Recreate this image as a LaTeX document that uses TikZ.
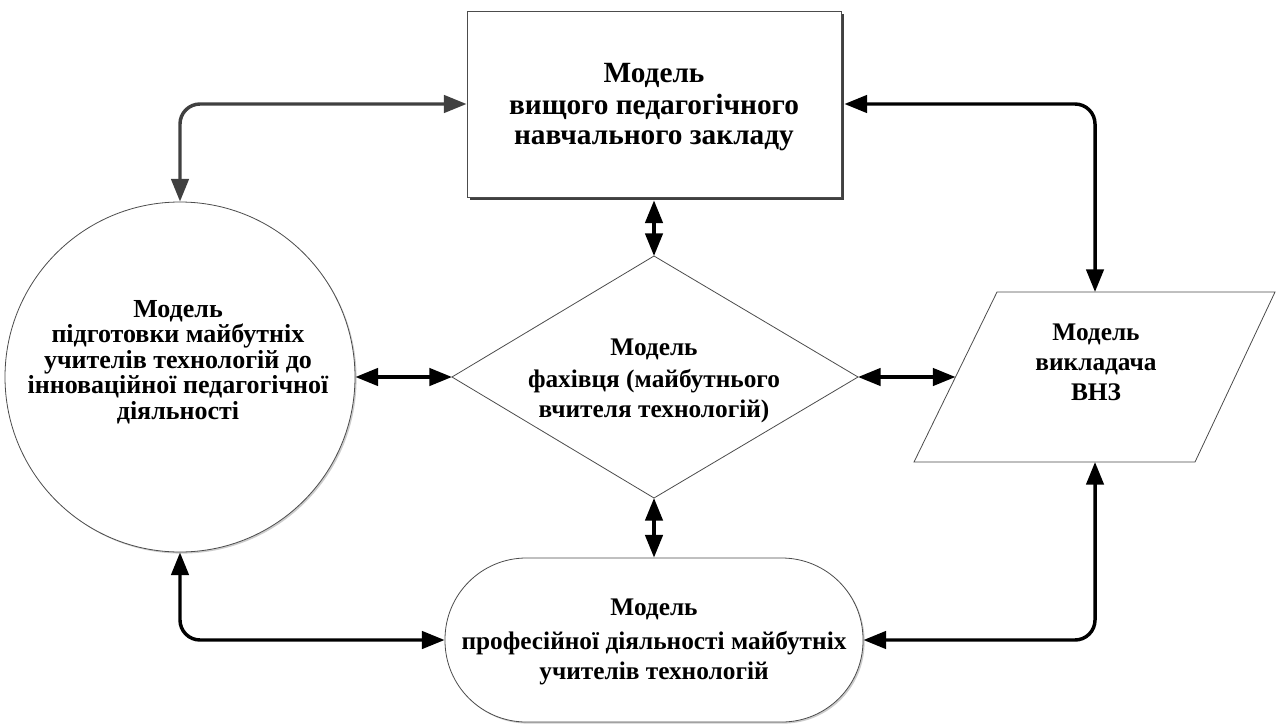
\documentclass[tikz,border=0pt]{standalone}
\usepackage{fontspec}
\setmainfont{Liberation Serif}
\usetikzlibrary{arrows.meta,shadows}
\begin{document}
\begin{tikzpicture}[x=0.75pt,y=-0.75pt,
  lbl/.style={font=\bfseries\fontsize{19}{22.5}\selectfont, align=center, inner sep=0pt},
  rlbl/.style={font=\bfseries\fontsize{22}{22.5}\selectfont, align=center, inner sep=0pt},
  slbl/.style={font=\bfseries\fontsize{19.5}{19.2}\selectfont, align=center, inner sep=0pt},
  shp/.style={draw=black!70, line width=0.6pt, fill=white},
  arr/.style={line width=2.6pt, draw=black, rounded corners=15pt, {Triangle[length=17pt,width=13pt]}-{Triangle[length=17pt,width=13pt]}},
  garr/.style={arr, draw=black!75}]
\useasboundingbox (0,0) rectangle (1276,724);
% top rectangle
\node[shp, rectangle, minimum width=280.5pt, minimum height=139.5pt,
  drop shadow={shadow xshift=2.25pt, shadow yshift=-2.25pt, fill=black!75, opacity=1}] (rect) at (654,104) {};
\node[rlbl] (rectT) at (654,107) {Модель\\[1pt]вищого педагогічного\\навчального закладу};
% circle
\node[shp, circle, minimum size=262.5pt, inner sep=0pt,
  drop shadow={shadow xshift=1.2pt, shadow yshift=-1.2pt, fill=black!20, opacity=1}] (circ) at (180,377) {};
\node[slbl] (circT) at (178,362) {Модель\\підготовки майбутніх\\учителів технологій до\\інноваційної педагогічної\\діяльності};
% diamond
\coordinate (dT) at (654,256);
\coordinate (dR) at (858,377);
\coordinate (dB) at (654,498);
\coordinate (dL) at (452,377);
\draw[shp] (dT) -- (dR) -- (dB) -- (dL) -- cycle;
\node[lbl] (diamT) at (654,381) {Модель\\[2pt]фахівця (майбутнього\\вчителя технологій)};
% parallelogram
\coordinate (pTL) at (997,292);
\coordinate (pTR) at (1275,292);
\coordinate (pBR) at (1195,462);
\coordinate (pBL) at (914,462);
\draw[shp] (pTL) -- (pTR) -- (pBR) -- (pBL) -- cycle;
\coordinate (pT) at (1095,292);
\coordinate (pB) at (1095,462);
\coordinate (pL) at (955.5,377);
\node[lbl] (paraT) at (1096,362) {Модель\\викладача\\ВНЗ};
% stadium
\node[shp, rectangle, rounded corners=61pt, minimum width=313.5pt, minimum height=123pt,
  drop shadow={shadow xshift=1.2pt, shadow yshift=-1.2pt, fill=black!20, opacity=1}] (stad) at (654,640) {};
\node[lbl] (stadT) at (654,642) {Модель\\[3pt]професійної діяльності майбутніх\\учителів технологій};
% connectors
\draw[garr] (circ.north) |- (rect.west);
\draw[arr] ([xshift=2.25pt]rect.east) -| (pT);
\draw[arr] ([yshift=-2.25pt]rect.south) -- (dT);
\draw[arr] (circ.east) -- (dL);
\draw[arr] (dR) -- (pL);
\draw[arr] (dB) -- (stad.north);
\draw[arr] (circ.south) |- (stad.west);
\draw[arr] (stad.east) -| (pB);
\end{tikzpicture}
\end{document}
